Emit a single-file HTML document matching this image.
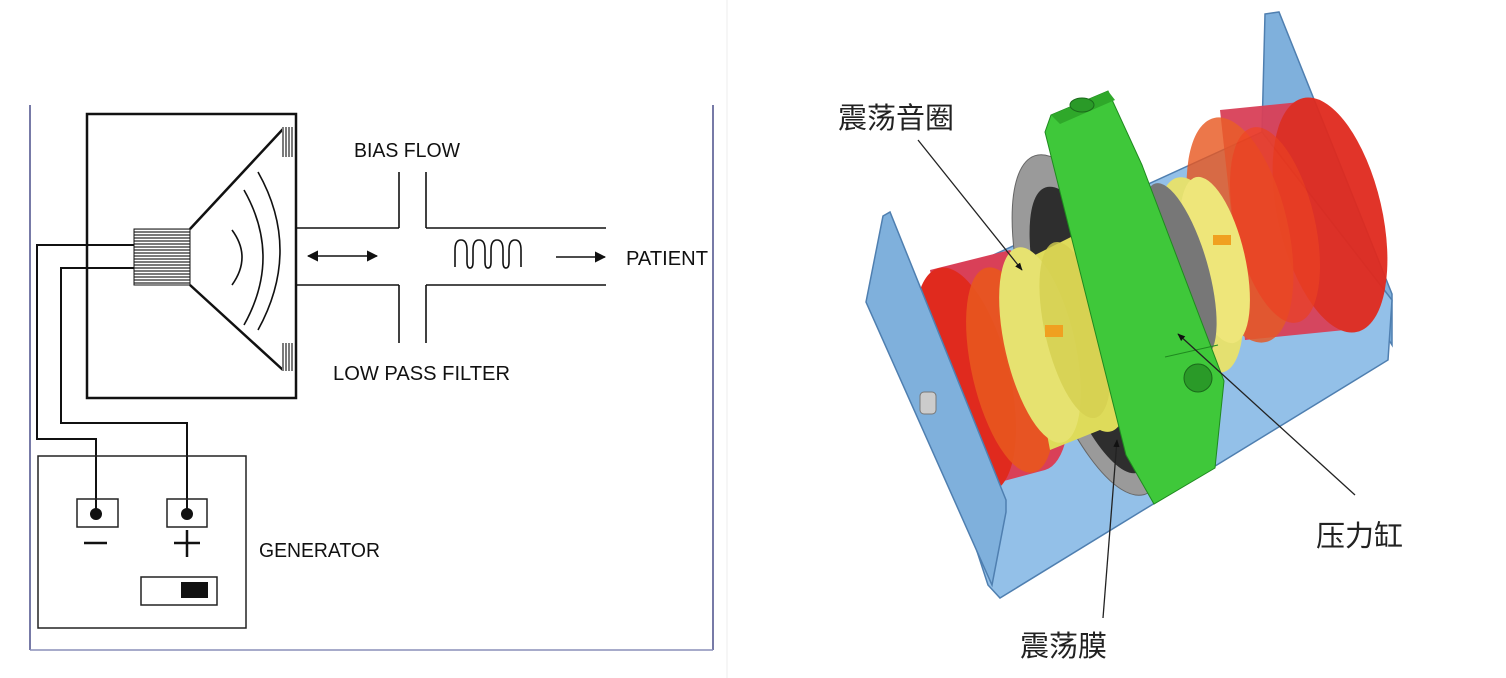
<!DOCTYPE html>
<html><head><meta charset="utf-8"><style>
html,body{margin:0;padding:0;background:#fff;}
svg{display:block}
.t{font-family:"Liberation Sans",sans-serif;font-size:20px;fill:#111;}
.c{font-family:"Liberation Sans","Noto Sans CJK SC",sans-serif;font-size:29px;fill:#222;}
</style></head><body>
<svg width="1506" height="678" viewBox="0 0 1506 678" xmlns="http://www.w3.org/2000/svg">
<defs>
<pattern id="h" width="4" height="3" patternUnits="userSpaceOnUse"><rect width="4" height="3" fill="#fff"/><line x1="0" y1="1" x2="4" y2="1" stroke="#222" stroke-width="1.2"/></pattern>
<pattern id="v" width="3" height="4" patternUnits="userSpaceOnUse"><rect width="3" height="4" fill="#fff"/><line x1="1" y1="0" x2="1" y2="4" stroke="#222" stroke-width="1.2"/></pattern>
<marker id="a" viewBox="0 0 10 10" refX="9" refY="5" markerWidth="7" markerHeight="7" orient="auto-start-reverse"><path d="M0,0L10,5L0,10z" fill="#111"/></marker>
<marker id="b" viewBox="0 0 10 10" refX="9" refY="5" markerWidth="6" markerHeight="6" orient="auto"><path d="M0,1L10,5L0,9z" fill="#111"/></marker>
</defs>
<g stroke="#333" fill="none">
<line x1="30" y1="105" x2="30" y2="650" stroke="#4a4f8a" stroke-width="1.5"/>
<line x1="713" y1="105" x2="713" y2="650" stroke="#4a4f8a" stroke-width="1.5"/>
<line x1="30" y1="650" x2="713" y2="650" stroke="#8a8fb8" stroke-width="1.5"/>
<line x1="727" y1="0" x2="727" y2="678" stroke="#eee" stroke-width="1"/>
</g>
<g stroke="#111" fill="none" stroke-width="2.5">
<rect x="87" y="114" width="209" height="284"/>
<line x1="190" y1="229" x2="283" y2="129"/>
<line x1="190" y1="285" x2="283" y2="370"/>
</g>
<rect x="134" y="229" width="56" height="56" fill="url(#h)" stroke="#111" stroke-width="1"/>
<rect x="282" y="127" width="12" height="30" fill="url(#v)"/>
<rect x="282" y="343" width="12" height="28" fill="url(#v)"/>
<g stroke="#111" fill="none" stroke-width="1.6">
<path d="M232,230 Q252,257 232,285"/>
<path d="M244,190 Q282,257 244,325"/>
<path d="M258,172 Q302,250 258,330"/>
<line x1="296" y1="228" x2="399" y2="228"/>
<line x1="426" y1="228" x2="606" y2="228"/>
<line x1="296" y1="285" x2="399" y2="285"/>
<line x1="426" y1="285" x2="606" y2="285"/>
<line x1="399" y1="172" x2="399" y2="228"/>
<line x1="426" y1="172" x2="426" y2="228"/>
<line x1="399" y1="285" x2="399" y2="343"/>
<line x1="426" y1="285" x2="426" y2="343"/>
<line x1="308" y1="256" x2="377" y2="256" marker-start="url(#a)" marker-end="url(#a)"/>
<line x1="556" y1="257" x2="605" y2="257" marker-end="url(#a)"/>
<path d="M455,267 V250 Q455,240 461,240 Q467,240 467,250 V262 Q467,268 470,268 Q473,268 473,262 V250 Q473,240 479,240 Q485,240 485,250 V262 Q485,268 488,268 Q491,268 491,262 V250 Q491,240 497,240 Q503,240 503,250 V262 Q503,268 506,268 Q509,268 509,262 V250 Q509,240 515,240 Q521,240 521,250 V267"/>
</g>
<g stroke="#111" fill="none" stroke-width="2">
<polyline points="134,245 37,245 37,439 96,439 96,513"/>
<polyline points="134,268 61,268 61,423 187,423 187,513"/>
</g>
<g stroke="#222" fill="none" stroke-width="1.5">
<rect x="38" y="456" width="208" height="172"/>
<rect x="77" y="499" width="41" height="28"/>
<rect x="167" y="499" width="40" height="28"/>
<rect x="141" y="577" width="76" height="28"/>
</g>
<circle cx="96" cy="514" r="6" fill="#111"/>
<circle cx="187" cy="514" r="6" fill="#111"/>
<rect x="181" y="582" width="27" height="16" fill="#111"/>
<line x1="84" y1="543" x2="107" y2="543" stroke="#111" stroke-width="2.5"/>
<line x1="174" y1="543" x2="200" y2="543" stroke="#111" stroke-width="2.5"/>
<line x1="187" y1="530" x2="187" y2="557" stroke="#111" stroke-width="2.5"/>
<text class="t" x="354" y="157" textLength="106" lengthAdjust="spacingAndGlyphs">BIAS FLOW</text>
<text class="t" x="333" y="380" textLength="177" lengthAdjust="spacingAndGlyphs">LOW PASS FILTER</text>
<text class="t" x="626" y="265" textLength="82" lengthAdjust="spacingAndGlyphs">PATIENT</text>
<text class="t" x="259" y="557" textLength="121" lengthAdjust="spacingAndGlyphs">GENERATOR</text>

<polygon points="1265,14 1279,12 1392,294 1392,345 1262,132" fill="#7fb0dc" stroke="#4f7fb0" stroke-width="1.5"/>
<polygon points="895,300 1262,132 1392,300 1388,360 1000,598 988,585" fill="#93c0e8" stroke="#4f7fb0" stroke-width="1.5"/>
<g opacity="0.95">
<path d="M1220,110 L1320,100 A55,125 -13 0 1 1345,330 L1245,340 Z" fill="#d94058"/>
<ellipse cx="1330" cy="215" rx="52" ry="120" transform="rotate(-13 1330 215)" fill="#e02a1e"/>
<ellipse cx="1240" cy="230" rx="48" ry="115" transform="rotate(-13 1240 230)" fill="#e8561e" opacity="0.85"/>
<ellipse cx="1275" cy="225" rx="40" ry="100" transform="rotate(-13 1275 225)" fill="#f03a18" opacity="0.7"/>
</g>
<ellipse cx="1200" cy="275" rx="38" ry="100" transform="rotate(-13 1200 275)" fill="#e4e070"/>
<ellipse cx="1215" cy="260" rx="30" ry="85" transform="rotate(-13 1215 260)" fill="#eee67a"/>
<rect x="1213" y="235" width="18" height="10" fill="#f0a020"/>
<ellipse cx="1180" cy="270" rx="28" ry="90" transform="rotate(-16 1180 270)" fill="#777"/>
<ellipse cx="1090" cy="325" rx="58" ry="178" transform="rotate(-18 1090 325)" fill="#9a9a9a" stroke="#666"/>
<ellipse cx="1092" cy="330" rx="44" ry="150" transform="rotate(-18 1092 330)" fill="#2e2e2e"/>
<path d="M930,270 L1010,250 A45,115 -13 0 1 1045,470 L970,490 Z" fill="#d94058"/>
<ellipse cx="965" cy="380" rx="45" ry="115" transform="rotate(-13 965 380)" fill="#e02a1e"/>
<ellipse cx="1010" cy="370" rx="38" ry="105" transform="rotate(-13 1010 370)" fill="#e8561e" opacity="0.9"/>
<path d="M1015,265 L1075,235 A35,100 -13 0 1 1100,430 L1050,450 Z" fill="#dedb5a"/>
<ellipse cx="1040" cy="345" rx="35" ry="100" transform="rotate(-13 1040 345)" fill="#e6e270"/>
<ellipse cx="1075" cy="330" rx="30" ry="90" transform="rotate(-13 1075 330)" fill="#d4d050" opacity="0.8"/>
<rect x="1045" y="325" width="18" height="12" fill="#f0a020"/>
<polygon points="1045,132 1051,115 1108,91 1142,165 1224,381 1215,468 1154,504 1126,455" fill="#3fc83a" stroke="#1f8a1f" stroke-width="1"/>
<polygon points="1051,115 1108,91 1115,100 1060,124" fill="#2fa82a"/>
<ellipse cx="1082" cy="105" rx="12" ry="7" fill="#2a9a28" stroke="#1a6a1a"/>
<ellipse cx="1198" cy="378" rx="14" ry="14" fill="#2a9a28" stroke="#1a6a1a"/>
<line x1="1165" y1="357" x2="1218" y2="345" stroke="#1f8a1f"/>
<polygon points="883,216 890,212 1006,500 1006,512 992,585 866,302" fill="#7fb0dc" stroke="#4f7fb0" stroke-width="1.5"/>
<rect x="920" y="392" width="16" height="22" rx="4" fill="#ccc" stroke="#777"/>
<g stroke="#222" stroke-width="1.3" fill="none">
<line x1="918" y1="140" x2="1022" y2="270" marker-end="url(#b)"/>
<line x1="1355" y1="495" x2="1178" y2="334" marker-end="url(#b)"/>
<line x1="1103" y1="618" x2="1117" y2="440" marker-end="url(#b)"/>
</g>
<text class="c" x="838" y="128">震荡音圈</text>
<text class="c" x="1316" y="546">压力缸</text>
<text class="c" x="1020" y="656">震荡膜</text>
</svg>
</body></html>
